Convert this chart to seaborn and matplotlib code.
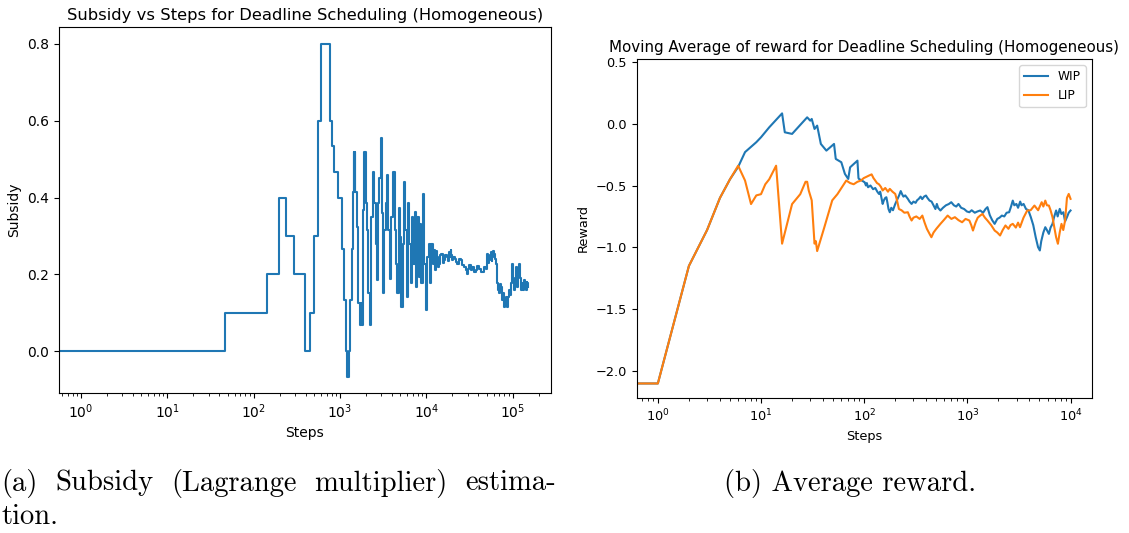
import numpy as np
import pandas as pd
import matplotlib
matplotlib.use("Agg")
import matplotlib.pyplot as plt
import seaborn as sns

# ---------------- data ----------------
# (step, subsidy) change points of the step curve
subsidy_points = [
    (0, 0.0), (1, 0.0), (47, 0.1), (143, 0.2), (194, 0.4), (236, 0.3), (292, 0.2), (397, 0.0),
    (454, 0.1), (496, 0.3), (552, 0.6), (603, 0.8), (760, 0.6), (801, 0.533), (846, 0.467),
    (958, 0.4), (1047, 0.267), (1105, 0.133), (1176, 0.0), (1218, -0.067), (1285, 0.0),
    (1320, 0.133), (1380, 0.267), (1418, 0.415), (1445, 0.519), (1469, 0.415), (1490, 0.519),
    (1509, 0.415), (1578, 0.324), (1620, 0.124), (1694, 0.068), (1755, 0.124), (1787, 0.068),
    (1852, 0.367), (1919, 0.519), (1989, 0.385), (2061, 0.315), (2117, 0.150), (2213, 0.068),
    (2293, 0.350), (2397, 0.467), (2462, 0.385), (2575, 0.280), (2645, 0.185), (2740, 0.385),
    (2840, 0.450), (2943, 0.554), (3023, 0.359), (3104, 0.150), (3217, 0.315), (3363, 0.385),
    (3516, 0.458), (3611, 0.315), (3776, 0.189), (3913, 0.350), (4128, 0.467), (4277, 0.315),
    (4433, 0.228), (4592, 0.150), (4759, 0.372), (4932, 0.297), (5110, 0.115), (5295, 0.280),
    (5487, 0.441), (5686, 0.315), (5892, 0.141), (6106, 0.385), (6327, 0.280), (6557, 0.176),
    (6794, 0.350), (7040, 0.228), (7295, 0.363), (7559, 0.167), (7834, 0.350), (8118, 0.193),
    (8413, 0.332), (8717, 0.176), (9115, 0.410), (9447, 0.228), (9788, 0.107), (10233, 0.245),
    (10605, 0.280), (10990, 0.176), (11390, 0.280), (11800, 0.228), (12230, 0.263),
    (12670, 0.211), (13000, 0.26), (13370, 0.245), (13700, 0.22), (14100, 0.228), (14500, 0.25),
    (14880, 0.254), (15400, 0.23), (15970, 0.237), (16500, 0.25), (17150, 0.245), (17700, 0.235),
    (18260, 0.259), (18700, 0.245), (19090, 0.263), (19500, 0.25), (19950, 0.237), (20600, 0.245),
    (21240, 0.241), (22000, 0.232), (22810, 0.228), (23800, 0.24), (24940, 0.237), (26000, 0.225),
    (27250, 0.220), (28500, 0.21), (29800, 0.202), (30500, 0.215), (31150, 0.224), (32500, 0.21),
    (34050, 0.220), (35600, 0.205), (37230, 0.211), (38900, 0.222), (40690, 0.215), (42500, 0.205),
    (44480, 0.207), (46500, 0.218), (48630, 0.215), (49700, 0.24), (50830, 0.254), (52000, 0.23),
    (53140, 0.237), (54300, 0.25), (55560, 0.259), (56800, 0.235), (58080, 0.245), (59400, 0.26),
    (60720, 0.254), (62100, 0.24), (63500, 0.228), (64900, 0.20), (66400, 0.176), (67900, 0.16),
    (69400, 0.150), (71000, 0.175), (72570, 0.167), (74200, 0.14), (75880, 0.132), (77600, 0.15),
    (79330, 0.115), (81100, 0.13), (82960, 0.141), (84800, 0.12), (86740, 0.115), (88700, 0.14),
    (90670, 0.159), (92700, 0.145), (94800, 0.176), (96900, 0.20), (99100, 0.228), (101300, 0.18),
    (103600, 0.159), (105900, 0.19), (108300, 0.220), (110800, 0.18), (113300, 0.167),
    (115800, 0.20), (118400, 0.228), (121000, 0.19), (123800, 0.159), (126600, 0.17),
    (129500, 0.176), (132400, 0.16), (135400, 0.185), (138400, 0.17), (141500, 0.159),
    (144700, 0.18), (148000, 0.176), (150000, 0.167),
]
subsidy_steps = [p[0] for p in subsidy_points]
subsidy_values = [p[1] for p in subsidy_points]

wip_points = [
    (0, -2.1), (1, -2.1), (2, -1.15), (3, -0.86), (4, -0.6), (5, -0.45), (6, -0.35), (7, -0.23),
    (9, -0.15), (10, -0.11), (12, -0.03), (16, 0.083), (17, -0.07), (20, -0.083), (28, 0.051),
    (30, 0.024), (31, 0.038), (33, -0.043), (35, -0.016), (38, -0.164), (43, -0.218), (51, -0.164),
    (53, -0.285), (60, -0.312), (65, -0.406), (70, -0.447), (73, -0.353), (86, -0.299),
    (88, -0.44), (89, -0.447), (95, -0.46), (101, -0.474), (104, -0.50), (106, -0.48),
    (109, -0.514), (115, -0.50), (122, -0.53), (128, -0.52), (134, -0.55), (139, -0.568),
    (143, -0.55), (147, -0.60), (151, -0.649), (155, -0.62), (160, -0.60), (164, -0.595),
    (168, -0.64), (172, -0.69), (177, -0.716), (183, -0.68), (190, -0.70), (200, -0.649),
    (210, -0.61), (218, -0.58), (226, -0.545), (233, -0.57), (240, -0.59), (250, -0.58),
    (265, -0.608), (275, -0.63), (288, -0.649), (300, -0.63), (315, -0.64), (325, -0.62),
    (338, -0.608), (352, -0.59), (365, -0.61), (380, -0.59), (397, -0.581), (410, -0.60),
    (430, -0.622), (450, -0.63), (470, -0.66), (490, -0.69), (506, -0.649), (520, -0.68),
    (548, -0.702), (580, -0.68), (620, -0.66), (660, -0.65), (698, -0.635), (740, -0.66),
    (780, -0.67), (820, -0.649), (870, -0.68), (930, -0.69), (990, -0.71), (1045, -0.716),
    (1100, -0.70), (1180, -0.72), (1250, -0.71), (1331, -0.702), (1420, -0.72), (1500, -0.69),
    (1565, -0.675), (1650, -0.74), (1740, -0.78), (1838, -0.810), (1950, -0.77), (2050, -0.76),
    (2160, -0.743), (2280, -0.75), (2400, -0.72), (2540, -0.716), (2650, -0.67), (2754, -0.622),
    (2850, -0.66), (2985, -0.649), (3100, -0.68), (3250, -0.63), (3350, -0.66), (3507, -0.649),
    (3700, -0.69), (3900, -0.70), (4121, -0.756), (4350, -0.82), (4600, -0.92), (4842, -0.998),
    (5040, -1.025), (5200, -0.95), (5450, -0.88), (5690, -0.837), (5900, -0.86), (6166, -0.891),
    (6400, -0.84), (6685, -0.810), (6900, -0.76), (7246, -0.702), (7500, -0.75), (7855, -0.689),
    (8150, -0.73), (8515, -0.716), (8850, -0.79), (9230, -0.756), (9600, -0.72), (10000, -0.702),
]
wip_steps = [p[0] for p in wip_points]
wip_reward = [p[1] for p in wip_points]

lip_points = [
    (0, -2.1), (1, -2.1), (2, -1.15), (3, -0.86), (4, -0.6), (5, -0.45), (6, -0.34), (7, -0.46),
    (8, -0.65), (9, -0.58), (10, -0.57), (11, -0.49), (12, -0.45), (14, -0.34), (16, -0.97),
    (20, -0.65), (24, -0.57), (27, -0.47), (28, -0.47), (29, -0.54), (31, -0.62), (33, -0.97),
    (34, -0.95), (35, -1.03), (41, -0.84), (49, -0.62), (55, -0.57), (67, -0.46), (73, -0.48),
    (79, -0.49), (86, -0.47), (93, -0.46), (99, -0.44), (105, -0.43), (111, -0.42), (118, -0.41),
    (123, -0.44), (128, -0.46), (133, -0.48), (139, -0.49), (145, -0.51), (151, -0.54),
    (160, -0.52), (170, -0.55), (177, -0.527), (188, -0.55), (200, -0.568), (208, -0.62),
    (217, -0.69), (230, -0.70), (245, -0.72), (265, -0.716), (275, -0.75), (288, -0.783),
    (300, -0.76), (320, -0.75), (345, -0.77), (366, -0.743), (385, -0.80), (405, -0.85),
    (430, -0.891), (448, -0.918), (470, -0.88), (500, -0.85), (548, -0.81), (590, -0.78),
    (644, -0.743), (700, -0.77), (757, -0.756), (820, -0.78), (889, -0.797), (960, -0.77),
    (1045, -0.783), (1090, -0.82), (1133, -0.864), (1200, -0.80), (1260, -0.76), (1331, -0.743),
    (1400, -0.73), (1480, -0.76), (1565, -0.783), (1700, -0.82), (1838, -0.864), (1950, -0.88),
    (2075, -0.904), (2200, -0.86), (2340, -0.823), (2500, -0.85), (2620, -0.82), (2754, -0.81),
    (2950, -0.84), (3100, -0.80), (3236, -0.837), (3500, -0.76), (3802, -0.702), (4100, -0.70),
    (4467, -0.662), (4850, -0.70), (5250, -0.635), (5450, -0.67), (5690, -0.622), (5900, -0.66),
    (6166, -0.662), (6400, -0.70), (6685, -0.756), (7000, -0.85), (7246, -0.918), (7540, -0.971),
    (7850, -0.88), (8170, -0.810), (8500, -0.86), (8850, -0.783), (9230, -0.6), (9600, -0.568),
    (10000, -0.608),
]
lip_steps = [p[0] for p in lip_points]
lip_reward = [p[1] for p in lip_points]

series_names = ["WIP", "LIP"]
left_yticks = [0.0, 0.2, 0.4, 0.6, 0.8]
right_yticks = [-2.0, -1.5, -1.0, -0.5, 0.0, 0.5]

BLUE = "#1f77b4"
ORANGE = "#ff7f0e"

W, H = 1129, 533
fig = plt.figure(figsize=(W / 100, H / 100), dpi=100)

def px_axes(l, t, r, b):
    return fig.add_axes([l / W, 1 - b / H, (r - l) / W, (b - t) / H])

# ---------------- left panel ----------------
ax1 = px_axes(58.7, 27.3, 550.7, 392.5)
sub_df = pd.DataFrame({"Steps": subsidy_steps, "Subsidy": subsidy_values})
sns.lineplot(data=sub_df, x="Steps", y="Subsidy", ax=ax1, color=BLUE, linewidth=1.5,
             drawstyle="steps-post", sort=False, estimator=None)
ax1.set_xscale("log")
ax1.set_xlim(10 ** -0.259, 10 ** 5.44)
ax1.set_ylim(-0.108, 0.8435)
ax1.set_yticks(left_yticks)
ax1.set_yticklabels([f"{v:.1f}" for v in left_yticks])
ax1.set_title("Subsidy vs Steps for Deadline Scheduling (Homogeneous)", fontsize=11.8, pad=5)
ax1.set_xlabel("Steps", fontsize=10)
ax1.set_ylabel("Subsidy", fontsize=10)
ax1.tick_params(labelsize=10)

# ---------------- right panel ----------------
ax2 = px_axes(636.7, 59.3, 1091.7, 397.7)
rw = pd.concat([
    pd.DataFrame({"Steps": wip_steps, "Reward": wip_reward, "Policy": series_names[0]}),
    pd.DataFrame({"Steps": lip_steps, "Reward": lip_reward, "Policy": series_names[1]}),
])
sns.lineplot(data=rw, x="Steps", y="Reward", hue="Policy", ax=ax2,
             palette={series_names[0]: BLUE, series_names[1]: ORANGE},
             linewidth=1.5, sort=False, estimator=None)
ax2.set_xscale("log")
ax2.set_xlim(10 ** -0.205, 10 ** 4.205)
ax2.set_ylim(-2.215, 0.52)
ax2.set_yticks(right_yticks)
ax2.set_yticklabels([f"{v:.1f}".replace("-", "\u2212") for v in right_yticks])
ax2.set_title("Moving Average of reward for Deadline Scheduling (Homogeneous)", fontsize=10.9, pad=5)
ax2.set_xlabel("Steps", fontsize=9.3)
ax2.set_ylabel("Reward", fontsize=9.3)
ax2.tick_params(labelsize=9.3)
leg = ax2.legend(loc="upper right", fontsize=8.7, title=None)

# ---------------- captions ----------------
cap_font = dict(family="cmr10", fontsize=20.6, color="black")
fig.canvas.draw()
renderer = fig.canvas.get_renderer()

def justified(words, x0, x1, yc):
    arts = [fig.text(0, 0, w, va="center", ha="left", **cap_font) for w in words]
    widths = [a.get_window_extent(renderer).width for a in arts]
    gap = (x1 - x0 - sum(widths)) / (len(words) - 1)
    x = x0
    for a, w in zip(arts, widths):
        a.set_position((x / W, 1 - yc / H))
        x += w + gap

justified(["(a)", "Subsidy", "(Lagrange", "multiplier)", "estima-"], 1, 556, 483)
fig.text(1 / W, 1 - 517 / H, "tion.", va="center", ha="left", **cap_font)
fig.text(724 / W, 1 - 483 / H, "(b) Average reward.", va="center", ha="left", **cap_font)

fig.savefig("out.png", dpi=100)
